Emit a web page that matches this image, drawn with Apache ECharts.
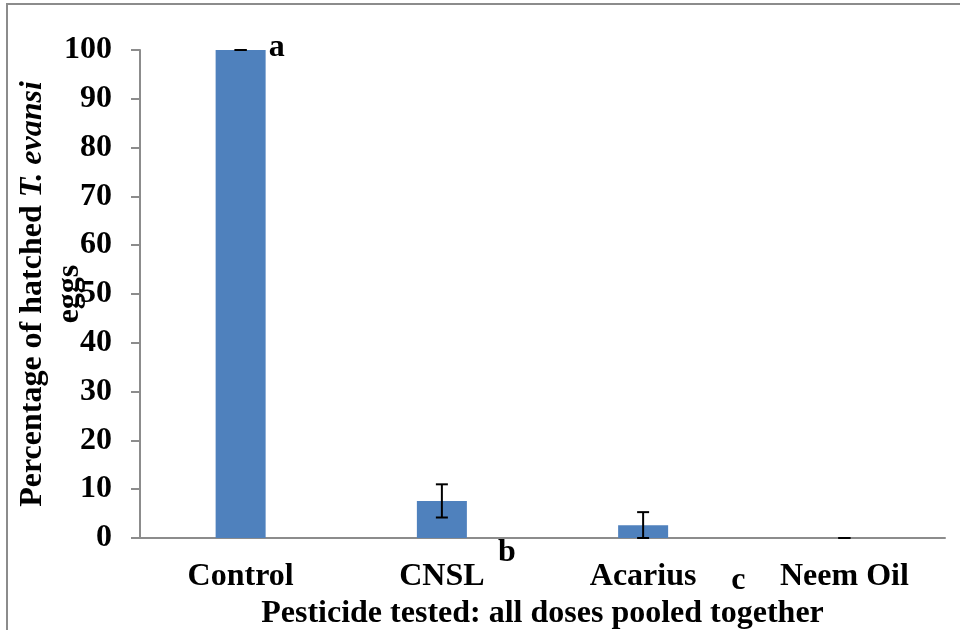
<!DOCTYPE html>
<html>
<head>
<meta charset="utf-8">
<script src="https://cdn.jsdelivr.net/npm/echarts@6/dist/echarts.min.js"></script>
<style>html,body{margin:0;padding:0;background:#fff}#c{width:960px;height:630px}</style>
</head>
<body>
<div id="c"></div>
<script>
var categories = ['Control', 'CNSL', 'Acarius', 'Neem Oil'];
var meanValues = [100, 7.6, 2.6, 0];
var errorValues = [0, 3.4, 2.7, 0];
var sigLetters = ['a', 'b', 'c', ''];
var yTicks = [0, 10, 20, 30, 40, 50, 60, 70, 80, 90, 100];

var FONT = '"Liberation Serif", "Times New Roman", serif';
var FS = 32;
var chart = echarts.init(document.getElementById('c'));

// letter anchors: [category index, value] plus pixel offsets (style only)
var letterAnchorValue = [meanValues[0], 0, 0, 0];
var letterOffsets = [[28, -2], [56, 15], [88, 43], [0, 0]];

var errData = categories.map(function (c, i) { return [i, meanValues[i], errorValues[i]]; });
var letterData = categories.map(function (c, i) { return [i, letterAnchorValue[i], sigLetters[i]]; });

chart.setOption({
  animation: false,
  grid: { left: 140, right: 15, top: 50, bottom: 92, containLabel: false, outerBoundsMode: 'none' },
  xAxis: {
    type: 'category',
    data: categories,
    name: 'Pesticide tested: all doses pooled together',
    nameLocation: 'middle',
    nameGap: 60,
    nameTextStyle: { fontFamily: FONT, fontWeight: 'bold', fontSize: FS, color: '#000' },
    axisLine: { lineStyle: { color: '#8c8c8c', width: 2 } },
    axisTick: { show: false },
    axisLabel: { margin: 23, fontFamily: FONT, fontWeight: 'bold', fontSize: FS, color: '#000' }
  },
  yAxis: {
    type: 'value',
    min: 0, max: 100, interval: 10,
    axisLine: { show: true, lineStyle: { color: '#8c8c8c', width: 2 } },
    axisTick: { show: true, length: 9, lineStyle: { color: '#8c8c8c', width: 2 } },
    splitLine: { show: false },
    axisLabel: {
      margin: 28, fontFamily: FONT, fontWeight: 'bold', fontSize: FS, color: '#000',
      formatter: function (v) { return yTicks.indexOf(v) >= 0 ? String(v) : ''; }
    }
  },
  graphic: [
    {
      type: 'polyline', silent: true,
      shape: { points: [[7, 630], [7, 4], [960, 4]] },
      style: { stroke: '#8c8c8c', lineWidth: 2, fill: null }
    },
    {
      type: 'text', x: 51, y: 294, rotation: Math.PI / 2,
      style: {
        text: '{b|Percentage of hatched }{i|T. evansi}\n{b|eggs}',
        align: 'center', verticalAlign: 'middle',
        rich: {
          b: { fontFamily: FONT, fontWeight: 'bold', fontSize: FS, fill: '#000', lineHeight: 37 },
          i: { fontFamily: FONT, fontWeight: 'bold', fontStyle: 'italic', fontSize: FS, fill: '#000', lineHeight: 37 }
        }
      }
    }
  ],
  series: [
    {
      type: 'bar',
      data: meanValues,
      barWidth: 50,
      itemStyle: { color: '#4f81bd' },
      z: 2
    },
    {
      type: 'custom',
      data: errData,
      z: 5,
      renderItem: function (params, api) {
        var i = api.value(0), m = api.value(1), e = api.value(2);
        var top = api.coord([i, m + e]);
        var bot = api.coord([i, Math.max(0, m - e)]);
        var hw = 6;
        return {
          type: 'group',
          children: [
            { type: 'line', shape: { x1: top[0], y1: top[1], x2: bot[0], y2: bot[1] }, style: { stroke: '#000', lineWidth: 2 } },
            { type: 'line', shape: { x1: top[0] - hw, y1: top[1], x2: top[0] + hw, y2: top[1] }, style: { stroke: '#000', lineWidth: 2 } },
            { type: 'line', shape: { x1: bot[0] - hw, y1: bot[1], x2: bot[0] + hw, y2: bot[1] }, style: { stroke: '#000', lineWidth: 2 } }
          ]
        };
      }
    },
    {
      type: 'custom',
      data: letterData,
      z: 6,
      clip: false,
      renderItem: function (params, api) {
        var idx = params.dataIndex;
        var p = api.coord([api.value(0), api.value(1)]);
        var off = letterOffsets[idx];
        return {
          type: 'text',
          x: p[0] + off[0], y: p[1] + off[1],
          style: {
            text: sigLetters[idx],
            fontFamily: FONT, fontWeight: 'bold', fontSize: FS, fill: '#000',
            align: 'left', verticalAlign: 'middle'
          }
        };
      }
    }
  ]
});
</script>
</body>
</html>
